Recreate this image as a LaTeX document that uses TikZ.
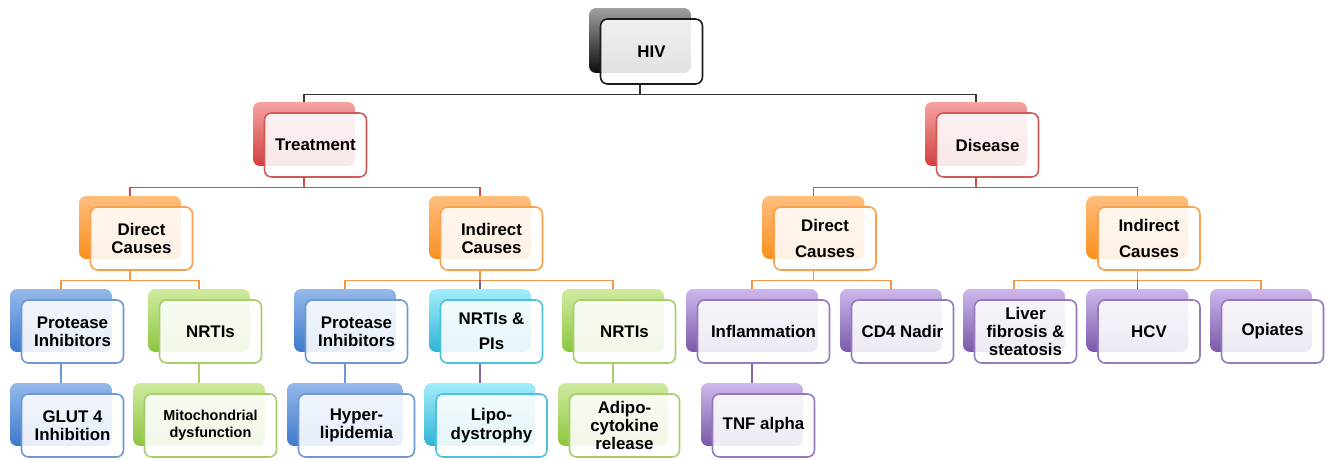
\documentclass[tikz,border=0pt]{standalone}
\usepackage{fontspec}
\setmainfont{Liberation Sans}
\usetikzlibrary{positioning}
\definecolor{GrayTop}{HTML}{A0A0A0}
\definecolor{GrayBot}{HTML}{0C0C0C}
\definecolor{GrayLine}{HTML}{1A1A1A}
\definecolor{RedTop}{HTML}{F5A3A3}
\definecolor{RedBot}{HTML}{D33F3F}
\definecolor{RedLine}{HTML}{CF5A5A}
\definecolor{OrangeTop}{HTML}{FFBE7D}
\definecolor{OrangeBot}{HTML}{F8901F}
\definecolor{OrangeLine}{HTML}{F9A04E}
\definecolor{BlueTop}{HTML}{95B9EA}
\definecolor{BlueBot}{HTML}{3D79CC}
\definecolor{BlueLine}{HTML}{6E98D2}
\definecolor{GreenTop}{HTML}{CFEB9F}
\definecolor{GreenBot}{HTML}{8CC63E}
\definecolor{GreenLine}{HTML}{A6CE6E}
\definecolor{CyanTop}{HTML}{A2EEFC}
\definecolor{CyanBot}{HTML}{2FB3D5}
\definecolor{CyanLine}{HTML}{4EC0DA}
\definecolor{PurpleTop}{HTML}{CDB8EC}
\definecolor{PurpleBot}{HTML}{7A58A8}
\definecolor{PurpleLine}{HTML}{9479BC}
\definecolor{LinkGray}{HTML}{333333}
\definecolor{LinkRed}{HTML}{C9504F}
\definecolor{LinkOrange}{HTML}{F79646}
\definecolor{LinkPurple}{HTML}{8064A2}

\begin{document}
\begin{tikzpicture}[x=0.02cm,y=-0.02cm,
  backbox/.style 2 args={rounded corners=4pt,top color=#1,bottom color=#2,minimum width=2.04cm,minimum height=1.26cm,inner sep=0pt},
  frontbox/.style={draw=#1,line width=0.9pt,rounded corners=4pt,fill=white,fill opacity=0.88,text opacity=1,minimum width=2.04cm,minimum height=1.26cm,inner sep=1pt,align=center,font=\bfseries\fontsize{9.6}{10.4}\selectfont},
  link/.style={line width=0.8pt}]
  \useasboundingbox (0,0) rectangle (1333,460);
  % top
  \node[backbox={GrayTop}{GrayBot},minimum height=1.3cm] (hivB) at (640,40.5) {};
  \node[frontbox=GrayLine,minimum height=1.3cm] (hiv) at ([shift={(11.5,11)}]hivB.center) {HIV};
  % level 1
  \node[backbox={RedTop}{RedBot},minimum height=1.28cm] (trtB) at (304,134) {};
  \node[frontbox=RedLine,minimum height=1.28cm] (trt) at ([shift={(11.5,11)}]trtB.center) {Treatment};
  \node[backbox={RedTop}{RedBot},minimum height=1.28cm] (disB) at (976,134) {};
  \node[frontbox=RedLine,minimum height=1.28cm] (dis) at ([shift={(11.5,11)}]disB.center) {Disease};
  % level 2
  \node[backbox={OrangeTop}{OrangeBot}] (tdirB) at (130,227.5) {};
  \node[frontbox=OrangeLine] (tdir) at ([shift={(11.5,11)}]tdirB.center) {Direct\\Causes};
  \node[backbox={OrangeTop}{OrangeBot}] (tindB) at (480,227.5) {};
  \node[frontbox=OrangeLine] (tind) at ([shift={(11.5,11)}]tindB.center) {Indirect\\Causes};
  \node[backbox={OrangeTop}{OrangeBot}] (ddirB) at (813.5,227.5) {};
  \node[frontbox=OrangeLine] (ddir) at ([shift={(11.5,11)}]ddirB.center) {Direct\\[4pt]Causes};
  \node[backbox={OrangeTop}{OrangeBot}] (dindB) at (1137.5,227.5) {};
  \node[frontbox=OrangeLine] (dind) at ([shift={(11.5,11)}]dindB.center) {Indirect\\[4pt]Causes};
  % level 3
  \node[backbox={BlueTop}{BlueBot}] (tpiB) at (61,320.5) {};
  \node[frontbox=BlueLine] (tpi) at ([shift={(11.5,11)}]tpiB.center) {Protease\\Inhibitors};
  \node[backbox={GreenTop}{GreenBot}] (tnrtiB) at (199,320.5) {};
  \node[frontbox=GreenLine] (tnrti) at ([shift={(11.5,11)}]tnrtiB.center) {NRTIs};
  \node[backbox={BlueTop}{BlueBot}] (ipiB) at (345,320.5) {};
  \node[frontbox=BlueLine] (ipi) at ([shift={(11.5,11)}]ipiB.center) {Protease\\Inhibitors};
  \node[backbox={CyanTop}{CyanBot}] (inpB) at (480,320.5) {};
  \node[frontbox=CyanLine] (inp) at ([shift={(11.5,11)}]inpB.center) {NRTIs \&\\[4pt]PIs};
  \node[backbox={GreenTop}{GreenBot}] (inrtiB) at (613,320.5) {};
  \node[frontbox=GreenLine] (inrti) at ([shift={(11.5,11)}]inrtiB.center) {NRTIs};
  \node[backbox={PurpleTop}{PurpleBot},minimum width=2.64cm] (inflB) at (752,320.5) {};
  \node[frontbox=PurpleLine,minimum width=2.64cm] (infl) at ([shift={(11.5,11)}]inflB.center) {Inflammation};
  \node[backbox={PurpleTop}{PurpleBot}] (cdB) at (891,320.5) {};
  \node[frontbox=PurpleLine] (cd) at ([shift={(11.5,11)}]cdB.center) {CD4 Nadir};
  \node[backbox={PurpleTop}{PurpleBot}] (livB) at (1014,320.5) {};
  \node[frontbox=PurpleLine] (liv) at ([shift={(11.5,11)}]livB.center) {Liver\\fibrosis \&\\steatosis};
  \node[backbox={PurpleTop}{PurpleBot}] (hcvB) at (1137.5,320.5) {};
  \node[frontbox=PurpleLine] (hcv) at ([shift={(11.5,11)}]hcvB.center) {HCV};
  \node[backbox={PurpleTop}{PurpleBot}] (opiB) at (1261,320.5) {};
  \node[frontbox=PurpleLine] (opi) at ([shift={(11.5,11)}]opiB.center) {Opiates};
  % level 4
  \node[backbox={BlueTop}{BlueBot}] (glutB) at (61,414.5) {};
  \node[frontbox=BlueLine] (glut) at ([shift={(11.5,11)}]glutB.center) {GLUT 4\\Inhibition};
  \node[backbox={GreenTop}{GreenBot},minimum width=2.64cm] (mitoB) at (199,414.5) {};
  \node[frontbox=GreenLine,minimum width=2.64cm,font=\bfseries\fontsize{8.2}{9.6}\selectfont] (mito) at ([shift={(11.5,11)}]mitoB.center) {Mitochondrial\\dysfunction};
  \node[backbox={BlueTop}{BlueBot},minimum width=2.32cm] (hypB) at (345,414.5) {};
  \node[frontbox=BlueLine,minimum width=2.32cm] (hyp) at ([shift={(11.5,11)}]hypB.center) {Hyper-\\lipidemia};
  \node[backbox={CyanTop}{CyanBot},minimum width=2.22cm] (lipoB) at (480,414.5) {};
  \node[frontbox=CyanLine,minimum width=2.22cm] (lipo) at ([shift={(11.5,11)}]lipoB.center) {Lipo-\\dystrophy};
  \node[backbox={GreenTop}{GreenBot},minimum width=2.2cm] (adipoB) at (613,414.5) {};
  \node[frontbox=GreenLine,minimum width=2.2cm] (adipo) at ([shift={(11.5,11)}]adipoB.center) {Adipo-\\cytokine\\release};
  \node[backbox={PurpleTop}{PurpleBot}] (tnfB) at (752,414.5) {};
  \node[frontbox=PurpleLine] (tnf) at ([shift={(11.5,11)}]tnfB.center) {TNF alpha};
  % connectors
  \draw[link,LinkGray] (hivB.center |- hiv.south) -- ++(0,10) -| (trtB.north);
  \draw[link,LinkGray] (hivB.center |- hiv.south) -- ++(0,10) -| (disB.north);
  \draw[link,LinkRed] (trtB.center |- trt.south) -- ++(0,10) -| (tdirB.north);
  \draw[link,LinkRed] (trtB.center |- trt.south) -- ++(0,10) -| (tindB.north);
  \draw[link,LinkRed] (disB.center |- dis.south) -- ++(0,10) -| (ddirB.north);
  \draw[link,LinkRed] (disB.center |- dis.south) -- ++(0,10) -| (dindB.north);
  \draw[link,LinkOrange] (tdirB.center |- tdir.south) -- ++(0,10) -| (tpiB.north);
  \draw[link,LinkOrange] (tdirB.center |- tdir.south) -- ++(0,10) -| (tnrtiB.north);
  \draw[link,LinkOrange] (tindB.center |- tind.south) -- ++(0,10) -| (ipiB.north);
  \draw[link,LinkOrange] (tindB.center |- tind.south) -- ++(0,10) -| (inrtiB.north);
  \draw[link,LinkOrange] (ddirB.center |- ddir.south) -- ++(0,10) -| (inflB.north);
  \draw[link,LinkOrange] (ddirB.center |- ddir.south) -- ++(0,10) -| (cdB.north);
  \draw[link,LinkOrange] (dindB.center |- dind.south) -- ++(0,10) -| (livB.north);
  \draw[link,LinkOrange] (dindB.center |- dind.south) -- ++(0,10) -| (opiB.north);
  \draw[link,LinkPurple] (inpB.north) -- ++(0,-9);
  \draw[link,LinkPurple] (hcvB.north) -- ++(0,-9);
  \draw[link,BlueLine] (tpiB.center |- tpi.south) -- (glutB.north);
  \draw[link,GreenLine] (tnrtiB.center |- tnrti.south) -- (mitoB.north);
  \draw[link,BlueLine] (ipiB.center |- ipi.south) -- (hypB.north);
  \draw[link,LinkPurple] (inpB.center |- inp.south) -- (lipoB.north);
  \draw[link,GreenLine] (inrtiB.center |- inrti.south) -- (adipoB.north);
  \draw[link,LinkPurple] (inflB.center |- infl.south) -- (tnfB.north);
\end{tikzpicture}
\end{document}
